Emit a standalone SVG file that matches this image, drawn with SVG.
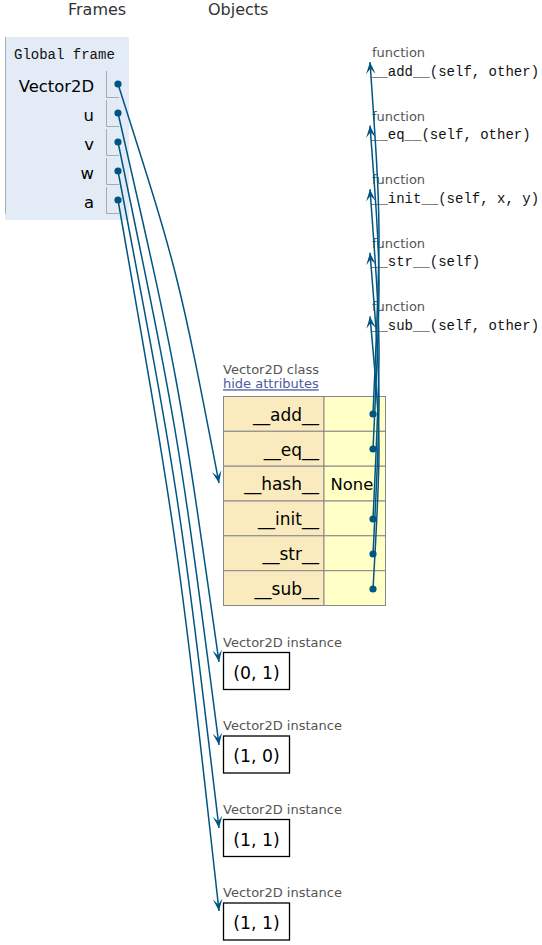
<svg xmlns="http://www.w3.org/2000/svg" width="542" height="945" viewBox="0 0 542 945">
<style>
  .hdr { font-family: "DejaVu Sans", Verdana, sans-serif; font-size: 16px; fill: #333; }
  .mono { font-family: "Liberation Mono", "DejaVu Sans Mono", monospace; font-size: 14px; fill: #111; }
  .var { font-family: "DejaVu Sans", Verdana, sans-serif; font-size: 16.4px; fill: #000; text-anchor: end; }
  .ckey { font-family: "DejaVu Sans", Verdana, sans-serif; font-size: 17px; fill: #000; text-anchor: end; }
  .val { font-family: "DejaVu Sans", Verdana, sans-serif; font-size: 16.4px; fill: #000; }
  .ival { font-family: "DejaVu Sans", Verdana, sans-serif; font-size: 17.3px; fill: #000; text-anchor: middle; }
  .lbl { font-family: "DejaVu Sans", Verdana, sans-serif; font-size: 13px; fill: #555; }
  .link { font-family: "DejaVu Sans", Verdana, sans-serif; font-size: 13px; fill: #4d5aa0; text-decoration: underline; }
  .vbox { fill: none; stroke: #aaa; stroke-width: 1; }
  .key { fill: #faebbf; stroke: #888; stroke-width: 1; }
  .cval { fill: #ffffc6; stroke: #888; stroke-width: 1; }
  .inst { fill: #fff; stroke: #000; stroke-width: 1.3; }
  .conn { fill: none; stroke: #005583; stroke-width: 1.5; }
  .dot { fill: #005583; }
</style>
<defs>
  <marker id="arr" viewBox="0 -5 12 10" refX="12" refY="0" markerWidth="12" markerHeight="10" markerUnits="userSpaceOnUse" orient="auto" overflow="visible">
    <path d="M0,-4.8 L12,0 L0,4.8 L5.4,0 Z" fill="#005583"/>
  </marker>
</defs>

<text class="hdr" x="68" y="15">Frames</text>
<text class="hdr" x="208" y="15">Objects</text>

<g id="global-frame">
  <rect x="5" y="37" width="124" height="183" fill="#e2ebf6"/>
  <line x1="5.5" y1="37" x2="5.5" y2="214" stroke="#a6b3b6" stroke-width="1"/>
  <text class="mono" x="14" y="58.5">Global frame</text>
  <text class="var" x="94" y="91.5">Vector2D</text>
  <path class="vbox" d="M106.5,71 V97.5 H119"/>
  <text class="var" x="94" y="120.5">u</text>
  <path class="vbox" d="M106.5,100 V126.5 H119"/>
  <text class="var" x="94" y="149.5">v</text>
  <path class="vbox" d="M106.5,129 V155.5 H119"/>
  <text class="var" x="94" y="178.5">w</text>
  <path class="vbox" d="M106.5,158 V184.5 H119"/>
  <text class="var" x="94" y="207.5">a</text>
  <path class="vbox" d="M106.5,187 V213.5 H119"/>
</g>

<g id="func-add">
  <text class="lbl" x="372" y="57">function</text>
  <text class="mono" x="371" y="75.5">__add__(self, other)</text>
</g>
<g id="func-eq">
  <text class="lbl" x="372" y="120.6">function</text>
  <text class="mono" x="371" y="139.1">__eq__(self, other)</text>
</g>
<g id="func-init">
  <text class="lbl" x="372" y="184.2">function</text>
  <text class="mono" x="371" y="202.7">__init__(self, x, y)</text>
</g>
<g id="func-str">
  <text class="lbl" x="372" y="247.8">function</text>
  <text class="mono" x="371" y="266.3">__str__(self)</text>
</g>
<g id="func-sub">
  <text class="lbl" x="372" y="311.4">function</text>
  <text class="mono" x="371" y="329.9">__sub__(self, other)</text>
</g>

<g id="class-Vector2D">
  <text class="lbl" x="223" y="374">Vector2D class</text>
  <text class="link" x="223" y="388.3">hide attributes</text>
  <rect class="key" x="223.5" y="396.5" width="100.5" height="34.8"/>
  <rect class="cval" x="324" y="396.5" width="61.5" height="34.8"/>
  <rect class="key" x="223.5" y="431.3" width="100.5" height="34.9"/>
  <rect class="cval" x="324" y="431.3" width="61.5" height="34.9"/>
  <rect class="key" x="223.5" y="466.2" width="100.5" height="34.8"/>
  <rect class="cval" x="324" y="466.2" width="61.5" height="34.8"/>
  <rect class="key" x="223.5" y="501" width="100.5" height="34.8"/>
  <rect class="cval" x="324" y="501" width="61.5" height="34.8"/>
  <rect class="key" x="223.5" y="535.8" width="100.5" height="34.9"/>
  <rect class="cval" x="324" y="535.8" width="61.5" height="34.9"/>
  <rect class="key" x="223.5" y="570.7" width="100.5" height="34.8"/>
  <rect class="cval" x="324" y="570.7" width="61.5" height="34.8"/>
  <text class="ckey" x="319" y="420.7">__add__</text>
  <text class="ckey" x="319" y="455.5">__eq__</text>
  <text class="ckey" x="319" y="490.4">__hash__</text>
  <text class="val" x="330.5" y="490.2">None</text>
  <text class="ckey" x="319" y="525.2">__init__</text>
  <text class="ckey" x="319" y="560.1">__str__</text>
  <text class="ckey" x="319" y="594.9">__sub__</text>
</g>

<g id="inst-u">
  <text class="lbl" x="223" y="646.5">Vector2D instance</text>
  <rect class="inst" x="223.5" y="652.5" width="66" height="37"/>
  <text class="ival" x="256.5" y="678.5">(0, 1)</text>
</g>
<g id="inst-v">
  <text class="lbl" x="223" y="730">Vector2D instance</text>
  <rect class="inst" x="223.5" y="736" width="66" height="37"/>
  <text class="ival" x="256.5" y="762">(1, 0)</text>
</g>
<g id="inst-w">
  <text class="lbl" x="223" y="813.5">Vector2D instance</text>
  <rect class="inst" x="223.5" y="819.5" width="66" height="37"/>
  <text class="ival" x="256.5" y="845.5">(1, 1)</text>
</g>
<g id="inst-a">
  <text class="lbl" x="223" y="897">Vector2D instance</text>
  <rect class="inst" x="223.5" y="903" width="66" height="37"/>
  <text class="ival" x="256.5" y="929">(1, 1)</text>
</g>

<g id="connectors">
  <path class="conn" marker-end="url(#arr)" d="M118,84 C178.5,273.5 178.5,273.5 219,483"/>
  <path class="conn" marker-end="url(#arr)" d="M118,113 C178.5,377.5 178.5,377.5 219,662"/>
  <path class="conn" marker-end="url(#arr)" d="M118,142 C178.5,433.5 178.5,433.5 219,745"/>
  <path class="conn" marker-end="url(#arr)" d="M118,171 C178.5,489.5 178.5,489.5 219,828"/>
  <path class="conn" marker-end="url(#arr)" d="M118,200 C178.5,545.5 178.5,545.5 219,911"/>
  <path class="conn" marker-end="url(#arr)" d="M373,414 C381.5,228 381.5,228 370,62"/>
  <path class="conn" marker-end="url(#arr)" d="M373,449 C381.5,277.3 381.5,277.3 370,125.6"/>
  <path class="conn" marker-end="url(#arr)" d="M373,519 C381.5,344.1 381.5,344.1 370,189.2"/>
  <path class="conn" marker-end="url(#arr)" d="M373,554 C381.5,393.4 381.5,393.4 370,252.8"/>
  <path class="conn" marker-end="url(#arr)" d="M373,589 C381.5,442.7 381.5,442.7 370,316.4"/>
  <circle class="dot" cx="118" cy="84" r="3.6"/>
  <circle class="dot" cx="118" cy="113" r="3.6"/>
  <circle class="dot" cx="118" cy="142" r="3.6"/>
  <circle class="dot" cx="118" cy="171" r="3.6"/>
  <circle class="dot" cx="118" cy="200" r="3.6"/>
  <circle class="dot" cx="373" cy="414" r="3.6"/>
  <circle class="dot" cx="373" cy="449" r="3.6"/>
  <circle class="dot" cx="373" cy="519" r="3.6"/>
  <circle class="dot" cx="373" cy="554" r="3.6"/>
  <circle class="dot" cx="373" cy="589" r="3.6"/>
</g>
</svg>
